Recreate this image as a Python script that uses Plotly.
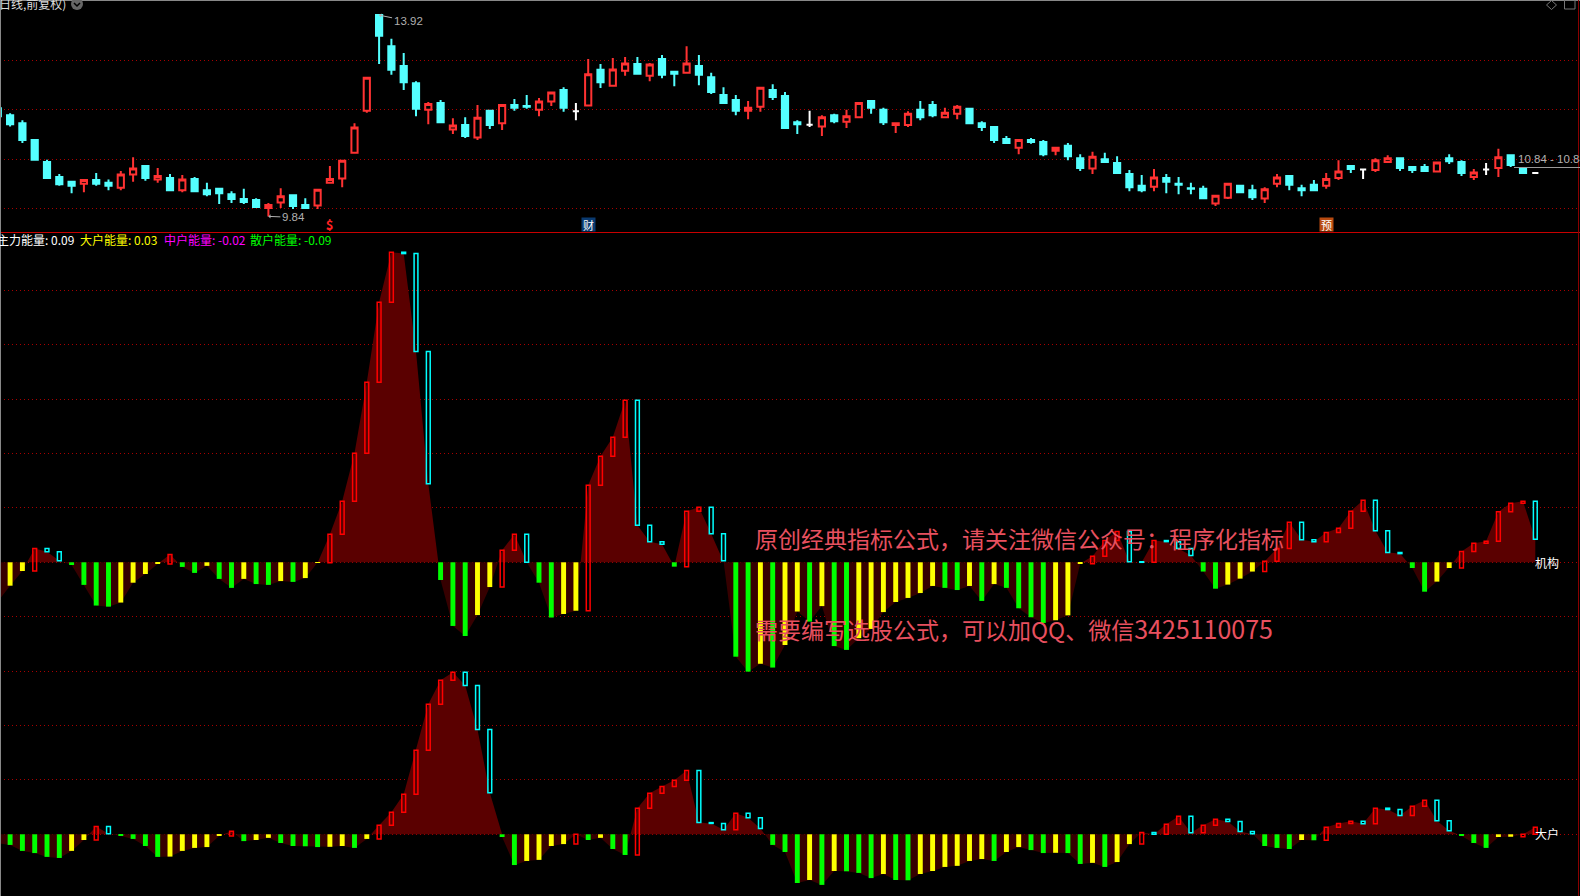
import plotly.graph_objects as go

W, H = 1580, 896
bars = list(range(-1, 125))

high = [12.05,11.93,11.79,11.39,10.99,10.70,10.55,10.58,10.72,10.59,10.76,11.04,10.88,10.82,10.70,10.68,10.64,10.52,10.40,10.35,10.40,10.21,10.11,10.41,10.27,10.21,10.40,10.86,10.98,11.73,12.66,13.92,13.44,13.15,12.58,12.16,12.20,11.83,11.85,12.10,11.98,12.12,12.22,12.30,12.24,12.36,12.46,12.14,13.03,12.93,13.05,13.07,13.07,12.95,13.11,12.77,13.29,13.11,12.75,12.46,12.30,12.18,12.46,12.52,12.36,11.79,11.98,11.89,11.92,12.00,12.15,12.20,12.04,11.75,11.97,12.18,12.18,12.04,12.10,12.04,11.77,11.67,11.47,11.41,11.43,11.39,11.23,11.33,11.10,11.15,11.13,11.06,10.78,10.68,10.80,10.70,10.64,10.52,10.46,10.27,10.52,10.46,10.48,10.43,10.70,10.68,10.48,10.58,10.72,10.98,10.88,10.80,11.02,11.08,11.02,10.86,10.90,10.93,11.10,10.98,10.80,10.92,11.21,11.10,10.82,10.72]
low = [11.86,11.66,11.33,10.97,10.60,10.46,10.31,10.33,10.46,10.37,10.37,10.54,10.56,10.52,10.37,10.33,10.35,10.25,10.09,10.11,10.09,10.03,9.84,10.01,9.99,10.00,9.99,10.50,10.43,11.13,11.94,12.93,12.71,12.40,11.87,11.71,11.73,11.51,11.43,11.39,11.61,11.59,11.98,12.02,11.87,12.08,11.96,11.79,12.08,12.44,12.48,12.69,12.71,12.58,12.64,12.48,12.73,12.50,12.32,12.14,11.89,11.81,11.96,12.20,11.61,11.51,11.65,11.47,11.73,11.63,11.84,11.92,11.69,11.53,11.65,11.79,11.85,11.83,11.81,11.71,11.57,11.33,11.33,11.10,11.31,11.06,11.08,10.98,10.76,10.70,10.92,10.70,10.35,10.33,10.35,10.31,10.29,10.29,10.19,10.05,10.19,10.31,10.17,10.11,10.43,10.37,10.25,10.35,10.40,10.58,10.72,10.60,10.74,10.92,10.76,10.72,10.74,10.74,10.90,10.66,10.58,10.68,10.64,10.84,10.70,10.72]
open_ = [12.03,11.89,11.73,11.39,10.94,10.64,10.54,10.50,10.58,10.52,10.42,10.69,10.86,10.59,10.62,10.37,10.60,10.37,10.40,10.29,10.19,10.17,10.01,10.12,10.27,10.07,10.06,10.52,10.61,11.13,11.98,13.92,13.29,12.89,12.54,12.00,12.14,11.60,11.69,11.44,11.98,11.73,12.10,12.08,12.00,12.17,12.40,11.97,12.09,12.81,12.49,12.79,12.93,12.69,13.03,12.77,12.75,12.89,12.66,12.30,12.20,11.98,12.06,12.40,12.28,11.75,11.70,11.66,11.89,11.76,11.85,12.18,12.00,11.69,11.69,12.00,12.10,11.85,11.92,12.02,11.73,11.65,11.41,11.23,11.39,11.35,11.17,11.27,11.02,10.81,11.00,10.92,10.70,10.46,10.44,10.62,10.50,10.41,10.40,10.10,10.22,10.46,10.37,10.20,10.50,10.66,10.41,10.48,10.46,10.62,10.86,10.79,10.78,10.94,11.02,10.84,10.84,10.75,11.02,10.94,10.64,10.79,10.82,11.08,10.82,10.72]
close = [11.87,11.71,11.39,10.99,10.62,10.49,10.46,10.58,10.50,10.46,10.69,10.81,10.62,10.66,10.37,10.59,10.35,10.29,10.31,10.19,10.13,10.03,10.07,10.25,10.05,10.01,10.38,10.60,10.97,11.64,12.65,13.50,12.81,12.56,12.02,12.12,11.75,11.68,11.47,11.84,11.69,12.10,12.04,12.06,12.17,12.35,12.04,11.97,12.72,12.56,12.82,12.94,12.73,12.92,12.71,12.73,12.94,12.71,12.36,12.14,11.98,12.04,12.45,12.26,11.63,11.71,11.70,11.85,11.77,11.87,12.14,12.04,11.75,11.73,11.92,11.85,11.89,11.94,12.06,11.73,11.65,11.39,11.33,11.39,11.35,11.10,11.23,11.06,10.82,11.05,10.94,10.72,10.43,10.37,10.63,10.54,10.48,10.40,10.21,10.26,10.50,10.33,10.23,10.39,10.63,10.48,10.37,10.37,10.60,10.75,10.80,10.79,10.98,11.02,10.82,10.78,10.76,10.93,10.96,10.72,10.73,10.79,11.04,10.88,10.72,10.72]

jigou = [-0.145,-0.086,-0.032,0.051,0.039,0.006,-0.010,-0.083,-0.159,-0.163,-0.148,-0.075,-0.043,-0.006,0.029,-0.017,-0.039,-0.013,-0.061,-0.094,-0.061,-0.080,-0.083,-0.069,-0.072,-0.058,-0.002,0.103,0.224,0.401,0.662,0.956,1.140,1.135,0.775,0.289,-0.065,-0.234,-0.271,-0.194,-0.091,0.044,0.103,0.000,-0.075,-0.203,-0.190,-0.178,0.283,0.390,0.460,0.596,0.136,0.076,0.066,-0.016,0.188,0.202,0.105,0.006,-0.347,-0.402,-0.373,-0.387,-0.304,-0.181,-0.218,-0.161,-0.308,-0.322,-0.279,-0.245,-0.183,-0.146,-0.131,-0.113,-0.087,-0.094,-0.102,-0.087,-0.142,-0.080,-0.094,-0.169,-0.202,-0.223,-0.213,-0.195,-0.005,0.022,0.080,0.113,0.002,0.000,0.080,0.076,0.051,0.025,-0.034,-0.097,-0.082,-0.060,-0.034,0.004,0.051,0.147,0.083,0.076,0.110,0.125,0.188,0.228,0.116,0.036,0.032,-0.021,-0.108,-0.071,-0.021,0.040,0.070,0.077,0.186,0.217,0.224,0.085]
dahu = [-0.033,-0.039,-0.061,-0.069,-0.083,-0.087,-0.061,-0.021,0.029,0.002,-0.006,-0.017,-0.043,-0.083,-0.082,-0.061,-0.050,-0.047,-0.006,0.011,-0.025,-0.021,-0.013,-0.032,-0.043,-0.044,-0.047,-0.046,-0.043,-0.050,-0.017,0.033,0.081,0.147,0.309,0.478,0.566,0.596,0.547,0.385,0.153,-0.010,-0.113,-0.098,-0.094,-0.043,-0.036,0.000,-0.021,-0.013,-0.054,-0.076,0.096,0.151,0.176,0.199,0.235,0.043,0.040,0.017,0.077,0.061,0.021,-0.039,-0.065,-0.179,-0.168,-0.186,-0.135,-0.136,-0.142,-0.161,-0.146,-0.168,-0.169,-0.146,-0.135,-0.120,-0.116,-0.098,-0.091,-0.098,-0.065,-0.047,-0.058,-0.069,-0.068,-0.069,-0.109,-0.105,-0.120,-0.102,-0.036,0.007,0.000,0.037,0.066,0.006,0.033,0.055,0.047,0.010,0.002,-0.043,-0.050,-0.054,-0.021,-0.022,0.026,0.040,0.048,0.039,0.096,0.091,0.069,0.103,0.125,0.050,0.013,-0.006,-0.032,-0.050,-0.010,-0.009,0.000,0.026]

PANELS = [(jigou, 0.0), (dahu, -1.0)]
PRICE_GRID = [13, 12, 11, 10]
ENERGY_GRID = [1.0, 0.8, 0.6, 0.4, 0.2, 0.0, -0.2, -0.4, -0.6, -0.8, -1.0]

assert len(high) == len(low) == len(open_) == len(close) == len(bars), (len(high), len(low), len(open_), len(close))
assert len(jigou) == len(dahu) == len(bars), (len(jigou), len(dahu))

RED, CYAN, WHITE = "#ff3232", "#54ffff", "#ffffff"
fig = go.Figure()

def candles(sel, colour, fill):
    idx = [i for i in range(len(bars)) if sel(i)]
    side = dict(line=dict(color=colour, width=2), fillcolor=fill)
    fig.add_trace(go.Candlestick(
        x=[bars[i] for i in idx], open=[open_[i] for i in idx], high=[high[i] for i in idx],
        low=[low[i] for i in idx], close=[close[i] for i in idx],
        increasing=side, decreasing=side, whiskerwidth=0, hoverinfo="skip",
        showlegend=False, xaxis="x", yaxis="y"))

candles(lambda i: close[i] > open_[i], RED, "#000000")
candles(lambda i: close[i] < open_[i], CYAN, CYAN)
candles(lambda i: close[i] == open_[i], WHITE, WHITE)

def crossings(vals):
    xs, ys = [], []
    for k, (b, v) in enumerate(zip(bars, vals)):
        if k and vals[k - 1] * v < 0:
            p = vals[k - 1]
            xs.append(b - 1 + p / (p - v))
            ys.append(0.0)
        xs.append(b)
        ys.append(v)
    return xs, ys

for vals, off in PANELS:
    xs, ys = crossings(vals)
    for clip, colour in ((max, "#5a0000"), (min, "#360000")):
        part = [clip(y, 0.0) + off for y in ys]
        fig.add_trace(go.Scatter(
            x=xs + [xs[-1], xs[0]], y=part + [off, off], mode="lines", fill="toself",
            fillcolor=colour, line=dict(width=0), hoverinfo="skip", showlegend=False,
            xaxis="x", yaxis="y2"))

for vals, off in PANELS:
    groups = {"green": ([], [], []), "yellow": ([], [], []), "red": ([], [], []), "cyan": ([], [], [])}
    for k in range(1, len(bars)):
        prev, cur = vals[k - 1], vals[k]
        if cur < 0:
            name, lo, hi = ("green" if cur < prev else "yellow"), cur, 0.0
        else:
            name = "red" if cur >= prev else "cyan"
            lo, hi = min(prev, cur), max(prev, cur)
        g = groups[name]
        g[0].append(bars[k]); g[1].append(lo + off); g[2].append(hi - lo)
    styles = {
        "green": dict(color="#00ff00", line=dict(width=0)),
        "yellow": dict(color="#ffff00", line=dict(width=0)),
        "red": dict(color="rgba(0,0,0,0)", line=dict(color="#ff0000", width=1.5)),
        "cyan": dict(color="rgba(0,0,0,0)", line=dict(color="#00ffff", width=1.5)),
    }
    for name, g in groups.items():
        solid = name in ("green", "yellow")
        fig.add_trace(go.Bar(
            x=g[0], y=g[2], base=g[1], width=0.40 if solid else 0.31, marker=styles[name],
            hoverinfo="skip", showlegend=False, xaxis="x", yaxis="y3"))

CJK = "Noto Sans CJK SC"
LAT = "Liberation Sans"
def label(px, py, text, colour, size=12, font=CJK, anchor="left", **kw):
    fig.add_annotation(xref="paper", yref="paper", x=px / W, y=1 - py / H, text=text,
                       showarrow=False, xanchor=anchor, yanchor="middle",
                       font=dict(family=font, size=size, color=colour), **kw)

label(-5, 240, "主力能量: 0.09", "#ffffff")
label(78, 240, "大户能量: 0.03", "#ffff00")
label(162, 240, "中户能量: -0.02", "#ff00ff")
label(248, 240, "散户能量: -0.09", "#00ff00")
label(-3, 3, "日线,前复权)", "#dddddd")
label(1533, 562, "机构", "#ffffff")
label(1533, 833, "大户", "#ffffff")
label(753, 538, "原创经典指标公式，请关注微信公众号：程序化指标", "#e8505f", size=23)
label(753, 628, '需要编写选股公式，可以加QQ、微信<span style="font-size:25px">3425110075</span>', "#e8505f", size=23)
label(1516, 159, "10.84 - 10.84", "#b0b0b0", size=11.5, font=LAT)

for bx, ty, txt, ax_, ay_ in ((30, 13.92, "13.92", 29, 6), (21, 9.84, "9.84", 25, 1)):
    fig.add_annotation(x=bx, y=ty, xref="x", yref="y", text=txt, axref="pixel", ayref="pixel",
                       ax=ax_, ay=ay_, showarrow=True, arrowhead=1, arrowsize=0.7, arrowwidth=1,
                       arrowcolor="#b0b0b0", standoff=0,
                       font=dict(family=LAT, size=11.5, color="#b0b0b0"))

for bx, txt, bg, colour, size in ((26, "<b>$</b>", "rgba(0,0,0,0)", "#ff2020", 13),
                                  (47, "财", "#0a3a70", "#ffffff", 11),
                                  (107, "预", "#b84a10", "#ffffff", 11)):
    fig.add_annotation(x=bx, y=9.685, xref="x", yref="y", text=txt, showarrow=False, bgcolor=bg,
                       borderpad=0, width=13, height=13,
                       font=dict(family=CJK, size=size, color=colour))

top_h = 232
energy_range = [-(H - 562.3) / 272, (562.3 - top_h) / 272]
fig.update_layout(
    width=W, height=H, margin=dict(l=0, r=0, t=0, b=0), paper_bgcolor="#000000", plot_bgcolor="#000000",
    showlegend=False, barmode="overlay", boxgap=0.28,
    xaxis=dict(range=[-10.1 / 12.3, (W - 10.1) / 12.3], visible=False, rangeslider=dict(visible=False),
               fixedrange=True, anchor="y"),
    yaxis=dict(domain=[1 - top_h / H, 1], range=[13 - (top_h - 60.5) / 49.33, 13 + 60.5 / 49.33],
               tickvals=PRICE_GRID, showticklabels=False, ticks="", zeroline=False,
               gridcolor="#a80000", griddash="1px,3px", gridwidth=1, fixedrange=True),
    yaxis2=dict(domain=[0, 1 - top_h / H], range=energy_range,
                tickvals=ENERGY_GRID, showticklabels=False, ticks="", zeroline=False,
                gridcolor="#a80000", griddash="1px,3px", gridwidth=1, fixedrange=True, anchor="x"),
    yaxis3=dict(domain=[0, 1 - top_h / H], range=energy_range, overlaying="y2", visible=False,
                showgrid=False, zeroline=False, fixedrange=True, anchor="x"),
    shapes=[
        dict(type="line", xref="paper", yref="paper", x0=0, x1=1, y0=1 - 232.5 / H, y1=1 - 232.5 / H,
             line=dict(color="#c80000", width=1)),
        dict(type="line", xref="paper", yref="paper", x0=0, x1=1, y0=1 - 0.5 / H, y1=1 - 0.5 / H,
             line=dict(color="#888888", width=1)),
        dict(type="line", xref="paper", yref="paper", x0=0.5 / W, x1=0.5 / W, y0=0, y1=1,
             line=dict(color="#888888", width=1)),
        dict(type="line", xref="paper", yref="paper", x0=1 - 1.5 / W, x1=1 - 1.5 / W, y0=0, y1=1,
             line=dict(color="#8a0000", width=1)),
        dict(type="line", xref="paper", yref="paper", x0=1514 / W, x1=1, y0=1 - 167.5 / H, y1=1 - 167.5 / H,
             line=dict(color="#999999", width=1)),
        dict(type="circle", xref="paper", yref="paper", x0=71 / W, x1=83 / W, y0=1 - 10 / H, y1=1 + 2 / H,
             fillcolor="#666666", line=dict(width=0)),
        dict(type="path", xref="paper", yref="paper",
             path=f"M {74/W} {1-3/H} L {77/W} {1-6/H} L {80/W} {1-3/H}",
             line=dict(color="#000000", width=1.5)),
        dict(type="path", xref="paper", yref="paper",
             path=f"M {1546.5/W} {1-5/H} L {1551.5/W} {1-0.5/H} L {1556.5/W} {1-5/H} L {1551.5/W} {1-9.5/H} Z",
             line=dict(color="#777777", width=1)),
        dict(type="rect", xref="paper", yref="paper", x0=1564.5 / W, x1=1575 / W, y0=1 - 9 / H, y1=1,
             line=dict(color="#777777", width=1)),
    ],
)

fig.write_html("out.html", config=dict(displayModeBar=False),
               post_script="document.body.style.margin='0';document.body.style.background='#000';document.body.style.overflow='hidden';")
